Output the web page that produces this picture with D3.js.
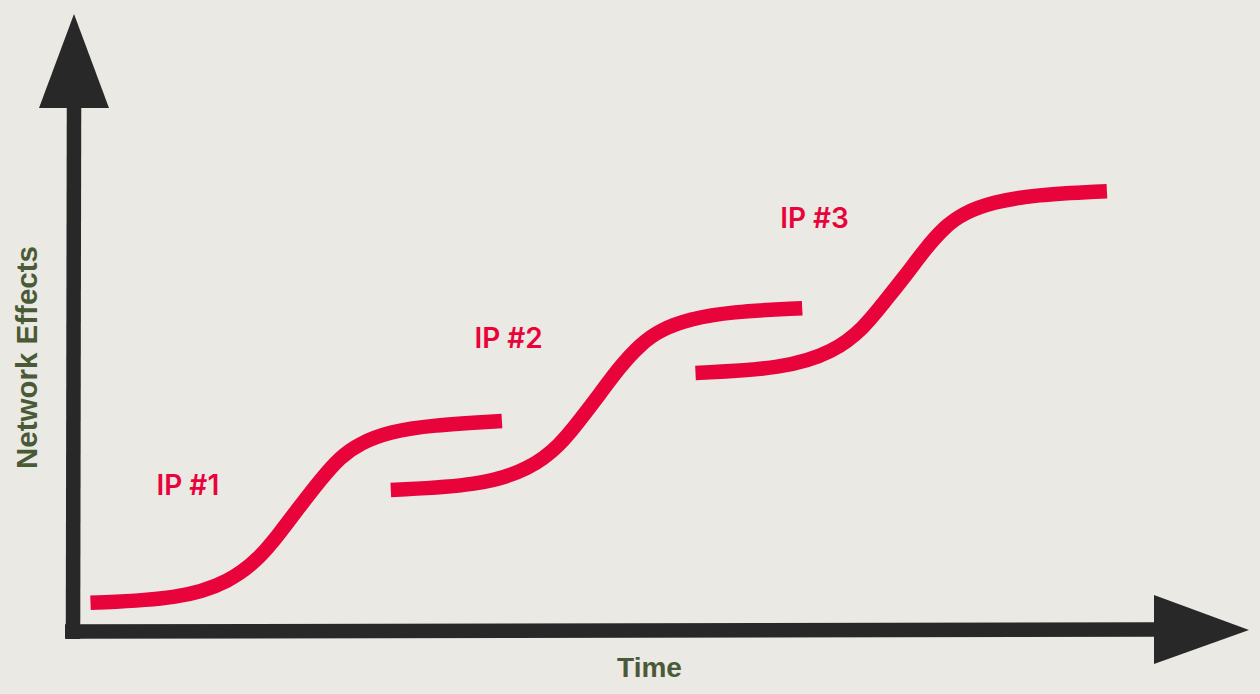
<!DOCTYPE html>
<html>
<head>
<meta charset="utf-8">
<script src="https://cdn.jsdelivr.net/npm/d3@7"></script>
<style>
html,body{margin:0;padding:0;background:#eae9e4;}
svg{display:block;}
</style>
</head>
<body>
<svg id="chart" width="1260" height="694"></svg>
<script>
// Axis titles
const xTitle = "Time";
const yTitle = "Network Effects";

// Series (time units 0-100, network effects units 0-100)
const seriesNames = ["IP #1", "IP #2", "IP #3"];
const ip1Time   = [1.5, 9.6, 14.2, 16.9, 18.7, 20.5, 22.4, 24.2, 26.0, 28.7, 32.4, 38.9];
const ip1Effect = [4.7, 5.3, 8.2, 12.2, 16.3, 20.7, 25.2, 29.0, 31.3, 33.2, 34.3, 35.0];
const ip2Time   = [28.8, 36.9, 41.5, 44.2, 46.0, 47.8, 49.6, 51.5, 53.3, 56.0, 59.6, 66.2];
const ip2Effect = [23.5, 24.2, 27.0, 31.0, 35.2, 39.5, 44.0, 47.8, 50.2, 52.0, 53.2, 53.8];
const ip3Time   = [56.5, 64.5, 69.1, 71.8, 73.6, 75.5, 77.3, 79.1, 80.9, 83.6, 87.3, 93.9];
const ip3Effect = [43.0, 43.7, 46.5, 50.5, 54.7, 59.0, 63.5, 67.3, 69.7, 71.5, 72.7, 73.3];
// label anchor positions (time, effect) of each series label
const labelTime   = [7.5, 36.4, 64.2];
const labelEffect = [22.7, 47.2, 67.2];

const series = [
  {name: seriesNames[0], t: ip1Time, e: ip1Effect},
  {name: seriesNames[1], t: ip2Time, e: ip2Effect},
  {name: seriesNames[2], t: ip3Time, e: ip3Effect}
];

const svg = d3.select("#chart");
svg.append("rect").attr("width",1260).attr("height",694).attr("fill","#eae9e4");

const x = d3.scaleLinear().domain([0,100]).range([74,1174]);
const y = d3.scaleLinear().domain([0,100]).range([631,31]);

const axisColor = "#282828";
const red = "#e8033a";
const green = "#4b5a36";

// Axes: thick stems with triangular arrow heads
const g = svg.append("g");
g.append("line")
  .attr("x1", x(0)-1).attr("y1", y(0)+8)
  .attr("x2", x(0)).attr("y2", 108)
  .attr("stroke", axisColor).attr("stroke-width", 14.5);
g.append("path")
  .attr("d", `M${x(0)-35},108 L${x(0)},14 L${x(0)+35},108 Z`)
  .attr("fill", axisColor);
g.append("line")
  .attr("x1", x(0)-9).attr("y1", y(0)+0.5)
  .attr("x2", 1154).attr("y2", y(0)-1.5)
  .attr("stroke", axisColor).attr("stroke-width", 14.5);
g.append("path")
  .attr("d", `M1154,595 L1249,630 L1154,664 Z`)
  .attr("fill", axisColor);

// Curves
const line = d3.line()
  .x(d => x(d[0])).y(d => y(d[1]))
  .curve(d3.curveBasis);

svg.append("g").selectAll("path")
  .data(series)
  .join("path")
  .attr("d", s => line(s.t.map((t,i) => [t, s.e[i]])))
  .attr("fill","none")
  .attr("stroke", red)
  .attr("stroke-width", 14.5)
  .attr("stroke-linecap","butt");

// Series labels
svg.append("g").selectAll("text")
  .data(series)
  .join("text")
  .attr("x", (s,i) => x(labelTime[i]))
  .attr("y", (s,i) => y(labelEffect[i]))
  .attr("font-family", "Inter, 'Liberation Sans', sans-serif")
  .attr("font-weight", 600)
  .attr("font-size", 28)
  .attr("fill", red)
  .text(s => s.name);

// Axis titles
svg.append("text")
  .attr("x", 649.5).attr("y", 677)
  .attr("text-anchor","middle")
  .attr("font-family","'Liberation Sans', Arial, sans-serif")
  .attr("font-weight","bold")
  .attr("font-size", 28)
  .attr("fill", green)
  .text(xTitle);

svg.append("text")
  .attr("transform","translate(37,357.5) rotate(-90)")
  .attr("text-anchor","middle")
  .attr("font-family","'Liberation Sans', Arial, sans-serif")
  .attr("font-weight","bold")
  .attr("font-size", 29.5)
  .attr("fill", green)
  .text(yTitle);
</script>
</body>
</html>
